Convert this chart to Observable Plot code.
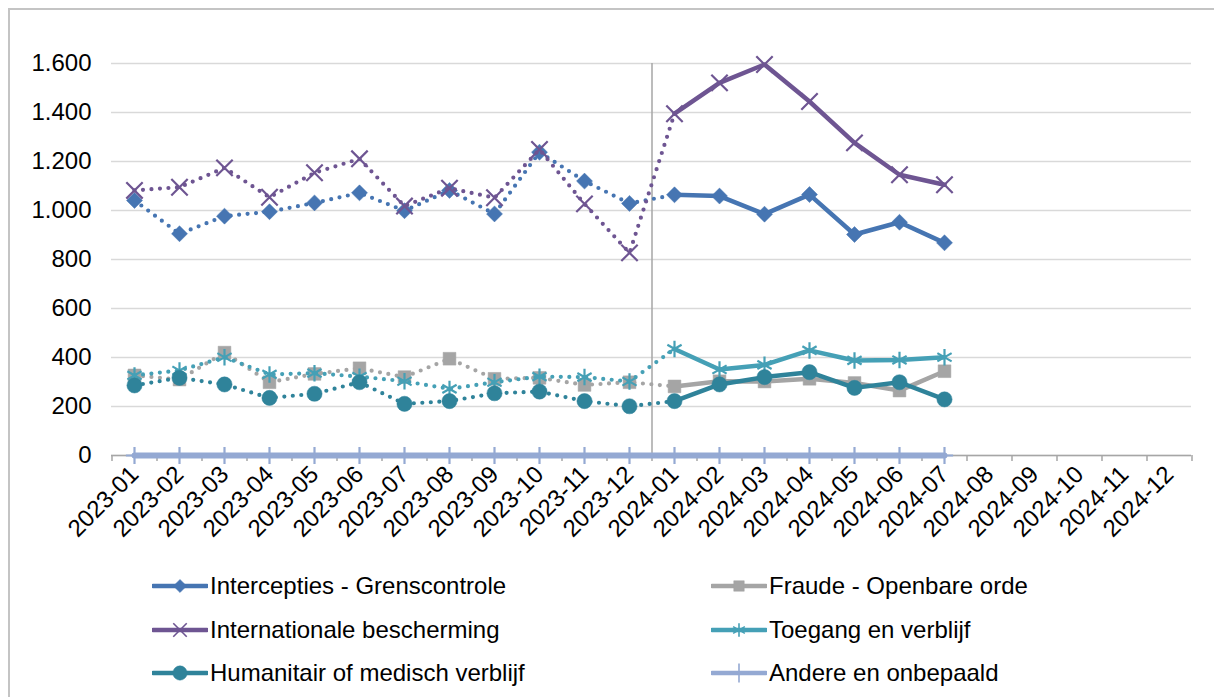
<!DOCTYPE html>
<html><head><meta charset="utf-8">
<script src="https://cdn.jsdelivr.net/npm/d3@7"></script>
<script src="https://cdn.jsdelivr.net/npm/@observablehq/plot@0.6"></script>
<style>
body{margin:0;background:#fff;font-family:"Liberation Sans",Arial,sans-serif;width:1214px;height:697px;overflow:hidden;position:relative;}
#frame{position:absolute;left:8px;top:8px;width:1300px;height:800px;border-left:2px solid #C4C4C4;border-top:2px solid #C4C4C4;}
#chart{position:absolute;left:0;top:0;}
#legend{position:absolute;left:0;top:0;width:1214px;height:697px;}
.item{position:absolute;display:flex;align-items:center;font-size:24px;color:#000;height:30px;line-height:30px;white-space:nowrap;}
.item svg{margin-right:2px;}
</style></head><body>
<div id="frame"></div><div id="chart"></div><div id="legend"></div>
<script>
const months = ["2023-01","2023-02","2023-03","2023-04","2023-05","2023-06","2023-07","2023-08","2023-09","2023-10","2023-11","2023-12",
  "2024-01","2024-02","2024-03","2024-04","2024-05","2024-06","2024-07","2024-08","2024-09","2024-10","2024-11","2024-12"];
const seriesNames = ["Intercepties - Grenscontrole","Fraude - Openbare orde","Internationale bescherming","Toegang en verblijf","Humanitair of medisch verblijf","Andere en onbepaald"];
const intercepties = [1041,905,977,995,1031,1072,999,1082,986,1238,1120,1029,1064,1059,985,1065,902,952,868];
const fraude       = [327,310,420,299,333,356,320,395,313,317,288,299,282,303,302,313,296,265,344];
const internationale = [1082,1095,1174,1054,1154,1211,1018,1091,1052,1249,1027,827,1395,1521,1596,1445,1276,1146,1105];
const toegang      = [327,347,401,331,336,322,303,272,299,322,320,302,435,351,370,429,388,390,401];
const humanitair   = [286,317,290,235,252,299,211,222,254,261,222,201,222,290,320,340,276,299,229];
const andere       = [0,0,0,0,0,0,0,0,0,0,0,0,0,0,0,0,0,0,0];
const yTicks = [0,200,400,600,800,1000,1200,1400,1600];

const colors = ["#4675B2","#A5A5A5","#6E5592","#45A0B6","#2F839A","#94A9D3"];
const values = [intercepties,fraude,internationale,toegang,humanitair,andere];
const symbols = ["diamond2","square","times","asterisk","circle","plus"];
const radii = [7.2,7.2,7.5,7.8,7.6,5.6];

const fmt = d3.formatLocale({decimal:",",thousands:".",grouping:[3],currency:["",""]}).format(",");

const marks = [
  Plot.gridY(yTicks,{stroke:"#D9D9D9",strokeOpacity:1,strokeWidth:1.5}),
  Plot.ruleY([0],{stroke:"#A6A6A6",strokeWidth:1.5}),
  Plot.axisX({ticks:months,tickSize:6,tickFormat:()=>"",dx:-22.5,stroke:"#A6A6A6",strokeWidth:1.5,label:null}),
  Plot.axisX({ticks:["2024-12"],tickSize:6,tickFormat:()=>"",dx:22.5,stroke:"#A6A6A6",strokeWidth:1.5,label:null}),
  Plot.ruleX(["2024-01"],{y1:0,y2:1600,dx:-22.5,stroke:"#A6A6A6",strokeWidth:1.5}),
  Plot.axisX({ticks:months,tickSize:0,tickPadding:15,tickRotate:-45,fontSize:24,fill:"#000",label:null}),
  Plot.axisY({ticks:yTicks,tickSize:0,tickPadding:20,tickFormat:fmt,fontSize:24,fill:"#000",label:null})
];

values.forEach((vals,i)=>{
  const rows = vals.map((v,j)=>({month:months[j],value:v,idx:j}));
  const c = colors[i];
  if (i===5) {
    marks.push(Plot.line(rows,{x:"month",y:"value",stroke:c,strokeWidth:6}));
  } else {
    marks.push(Plot.line(rows.filter(r=>r.idx<=12),{x:"month",y:"value",stroke:c,strokeWidth:4.2,strokeDasharray:"0,8.5",strokeLinecap:"round"}));
    marks.push(Plot.line(rows.filter(r=>r.idx>=12),{x:"month",y:"value",stroke:c,strokeWidth:4.5,strokeLinejoin:"round"}));
  }
  const filled = ["diamond2","square","circle"].includes(symbols[i]);
  marks.push(Plot.dot(rows,{x:"month",y:"value",symbol:()=>symbols[i],r:radii[i],
    fill: filled ? c : "none", stroke:c, strokeWidth: filled ? 0.5 : 2.2}));
});

const chart = Plot.plot({
  width:1214,height:560,
  marginLeft:111,marginRight:23,marginTop:63,marginBottom:105,
  x:{type:"point",domain:months,padding:0.5,axis:null},
  y:{domain:[0,1600],axis:null},
  symbol:{type:"identity"},
  style:{fontFamily:"Liberation Sans, Arial, sans-serif",background:"transparent",overflow:"visible"},
  marks
});
document.getElementById("chart").appendChild(chart);

// legend
const legendPos = [[152,586],[711,586],[152,630],[711,630],[152,673],[711,673]];
const symMap = {diamond2:d3.symbolDiamond2,square:d3.symbolSquare,times:d3.symbolTimes,asterisk:d3.symbolAsterisk,circle:d3.symbolCircle,plus:d3.symbolPlus};
const legendSizes = [110,110,120,130,160,120];
const legend = document.getElementById("legend");
seriesNames.forEach((name,i)=>{
  const [x,y] = legendPos[i];
  const div = document.createElement("div");
  div.className="item";
  div.style.left = x+"px"; div.style.top = (y-15)+"px";
  const c = colors[i];
  const filled = ["diamond2","square","circle"].includes(symbols[i]);
  const path = d3.symbol(symMap[symbols[i]], legendSizes[i])();
  div.innerHTML = `<svg width="56" height="24"><line x1="1" x2="55" y1="12" y2="12" stroke="${c}" stroke-width="4.5" stroke-linecap="round"/><path transform="translate(28,12)" d="${path}" fill="${filled?c:"none"}" stroke="${c}" stroke-width="${filled?0.5:1.6}"/></svg><span>${name}</span>`;
  legend.appendChild(div);
});
</script>
</body></html>
